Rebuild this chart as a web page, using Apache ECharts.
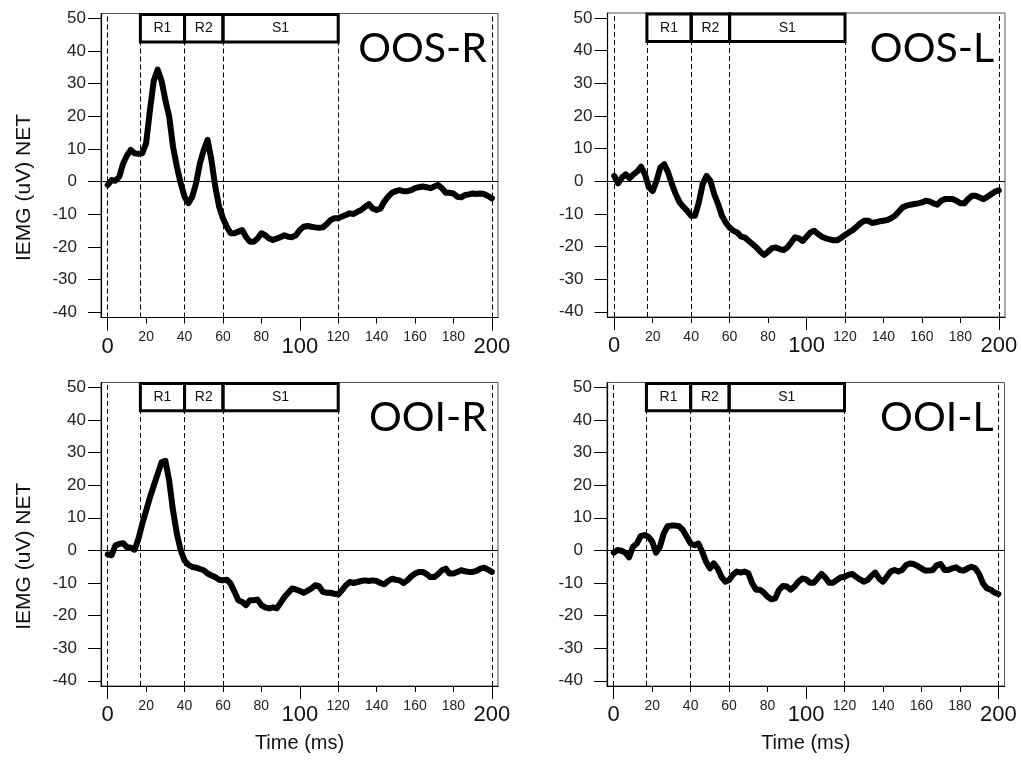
<!DOCTYPE html>
<html><head><meta charset="utf-8">
<script src="https://cdn.jsdelivr.net/npm/echarts@6/dist/echarts.min.js"></script>
<style>html,body{margin:0;padding:0;background:#fff}#c{width:1021px;height:762px}</style>
</head><body><div id="c"></div>
<script>
// ---- data ----
const times = [0,2,4,6,8,10,12,14,16,18,20,22,24,26,28,30,32,34,36,38,40,42,44,46,48,50,52,54,56,58,60,62,64,66,68,70,72,74,76,78,80,82,84,86,88,90,92,94,96,98,100,102,104,106,108,110,112,114,116,118,120,122,124,126,128,130,132,134,136,138,140,142,144,146,148,150,152,154,156,158,160,162,164,166,168,170,172,174,176,178,180,182,184,186,188,190,192,194,196,198,200];
const oosR = [-1,0.5,0.3,1.5,5.5,8,9.7,8.7,8.5,8.7,11.8,22,31,34.3,31,25,20,10.7,4.6,-0.5,-4.6,-6.6,-4.6,-0.5,5.6,9.7,12.8,6.6,-1.5,-7.7,-11.2,-13.8,-15.8,-15.8,-15.3,-14.8,-16.9,-18.4,-18.4,-17.4,-15.8,-16.4,-17.4,-17.9,-17.4,-17,-16.4,-16.9,-17,-16.4,-14.8,-13.8,-13.6,-13.8,-14,-14.1,-14,-13,-11.8,-11.2,-11.2,-10.7,-10.2,-9.7,-9.9,-9.2,-8.7,-7.7,-6.9,-8.2,-8.7,-8.2,-6.1,-4.6,-3.4,-2.9,-2.6,-2.9,-2.9,-2.6,-2,-1.7,-1.5,-1.7,-2,-1.5,-1,-2,-3.4,-3.4,-3.6,-4.6,-4.8,-4.1,-3.9,-3.6,-3.8,-3.6,-3.8,-4.4,-5.1];
const oosL = [1.6,-0.7,1.1,2.1,0.9,2.1,3,4.4,2.1,-1.9,-3,0.1,4.2,5.2,2.7,-0.9,-4,-6.5,-7.9,-9.1,-10.6,-10.6,-6.5,-0.9,1.6,0.1,-4,-7,-10.6,-12.7,-14.2,-15.2,-15.7,-17,-17.3,-18.3,-19.3,-20.3,-21.6,-22.6,-21.6,-20.5,-20.3,-20.8,-21.1,-20.3,-18.8,-17.2,-17.5,-18.3,-17,-15.7,-15.2,-16.2,-17,-17.5,-17.8,-18.1,-18.1,-17.3,-16.5,-15.7,-15,-14,-12.9,-12.1,-12.1,-12.8,-12.6,-12.3,-12.1,-11.9,-11.3,-10.6,-9.3,-8,-7.5,-7.2,-7,-6.8,-6.5,-6,-6.2,-6.8,-7.2,-6,-5.5,-5.5,-5.5,-6,-6.8,-6.8,-5.5,-4.5,-4.5,-5,-5.5,-4.8,-4,-3.2,-2.8];
const ooiR = [-1.2,-1.5,1.5,2,2.2,1,0.8,0.2,3.6,8.2,12.2,16.3,19.9,23.4,27,27.5,21.4,12.2,5.1,0,-3.1,-4.4,-5.1,-5.3,-5.7,-6.1,-7.1,-7.7,-8.2,-9,-9.2,-9,-10.2,-12.7,-15.3,-15.8,-16.8,-15.3,-15.3,-15.1,-16.8,-17.5,-17.8,-17.5,-17.8,-16.1,-14.3,-13,-11.7,-12,-12.4,-13,-12.4,-11.7,-10.7,-11,-12.7,-13,-13,-13.3,-13.5,-12.2,-10.7,-9.7,-10,-9.7,-9.4,-9.2,-9.4,-9.2,-9.4,-10,-10.4,-9.4,-8.7,-9,-9.2,-10,-9.2,-8,-7.1,-6.6,-6.6,-7.3,-8.2,-8.2,-7.3,-6.1,-5.6,-7.1,-7.1,-6.6,-6.1,-6.4,-6.6,-6.6,-6.3,-5.6,-5.3,-5.9,-6.6];
const ooiL = [-0.7,0.1,-0.1,-0.7,-2.1,1.1,2.1,4.4,4.7,4.2,2.7,-0.7,1.1,5.2,7.4,7.6,7.6,7.4,6.2,4.2,2.1,1.6,2.1,-0.4,-3.5,-5.5,-4,-5.5,-8.1,-9.6,-9.1,-7.5,-6.5,-6.8,-6.5,-7,-10.1,-12.1,-12.1,-12.9,-14.2,-15,-14.7,-12.1,-10.9,-11.1,-12.1,-11.1,-9.6,-8.6,-8.9,-9.9,-9.9,-8.6,-7.2,-8.3,-9.9,-9.9,-9.1,-8.3,-8.1,-7.5,-7.2,-8.1,-8.9,-9.6,-9.1,-7.8,-6.8,-8.6,-9.6,-8.1,-6.5,-6,-6.5,-6,-4.5,-4,-4.2,-4.8,-5.5,-6.2,-6.2,-6,-4.5,-4.2,-6,-6,-5.5,-5.2,-6,-6.2,-5.5,-5,-5.5,-7.2,-10.1,-11.6,-12.1,-12.9,-13.4];
const panelNames = ['OOS-R','OOS-L','OOI-R','OOI-L'];
const panelValues = [oosR, oosL, ooiR, ooiL];
const phaseNames = ['R1','R2','S1'];
const phaseBounds = [17, 40, 60, 120];
const markerTimes = [0, 17, 40, 60, 120, 200];
const yTicks = [-40,-30,-20,-10,0,10,20,30,40,50];
const yLabelsPos = [10,20,30,40,50];
const yLabelsNeg = [-40,-30,-20,-10,0];
const xSmallTicks = [20,40,60,80,120,140,160,180];
const xBigTicks = [0,100,200];
const yTitle = 'IEMG (uV) NET';
const xTitle = 'Time (ms)';

// ---- layout ----
const grids = [
  {left:101, top:13.5, width:397, height:304},
  {left:607.5, top:13, width:397.5, height:304},
  {left:101, top:382.5, width:397, height:303.5},
  {left:607, top:382.5, width:397.5, height:303.5}
];
const XMIN = -3.5, XMAX = 203.2, YMIN = -41.6, YMAX = 51.5;
const BOX_LO = 42.8, BOX_HI = 51.2;
const FONT = '"Liberation Sans", Arial, sans-serif';

const option = {
  animation: false,
  backgroundColor: '#fff',
  grid: [], xAxis: [], yAxis: [], series: [], title: []
};

grids.forEach((g, i) => {
  option.grid.push(Object.assign({show: true, borderColor: '#555', borderWidth: 1, backgroundColor: 'transparent'}, g));
  const isBottom = i >= 2, isLeft = i % 2 === 0;
  option.xAxis.push({
    type: 'value', gridIndex: i, min: XMIN, max: XMAX, position: 'bottom',
    axisLine: {show: true, onZero: false, lineStyle: {color: '#000', width: 1.2}},
    axisTick: {show: true, customValues: xSmallTicks, length: 6, lineStyle: {color: '#000'}},
    axisLabel: {show: true, customValues: xSmallTicks, fontSize: 14, color: '#222', fontFamily: FONT, margin: 13},
    splitLine: {show: false},
    name: isBottom ? xTitle : '', nameLocation: 'middle', nameGap: 47,
    nameTextStyle: {fontSize: 20, color: '#111', fontFamily: FONT}
  });
  option.xAxis.push({
    type: 'value', gridIndex: i, min: XMIN, max: XMAX, position: 'bottom',
    axisLine: {show: false, onZero: false},
    axisTick: {show: true, customValues: xBigTicks, length: 13, lineStyle: {color: '#000'}},
    axisLabel: {show: true, customValues: xBigTicks, fontSize: 22, color: '#111', fontFamily: FONT, margin: 18},
    splitLine: {show: false}
  });
  option.yAxis.push({
    type: 'value', gridIndex: i, min: YMIN, max: YMAX, position: 'left',
    axisLine: {show: true, onZero: false, lineStyle: {color: '#000', width: 1.2}},
    axisTick: {show: true, customValues: yTicks, length: 13, lineStyle: {color: '#000'}},
    axisLabel: {show: true, customValues: yLabelsPos, fontSize: 17, color: '#222', fontFamily: FONT, margin: 15},
    splitLine: {show: false},
    name: isLeft ? yTitle : '', nameLocation: 'middle', nameGap: 66, nameRotate: 90,
    nameTextStyle: {fontSize: 21, color: '#111', fontFamily: FONT, padding: [0, 44, 0, 0]}
  });
  option.yAxis.push({
    type: 'value', gridIndex: i, min: YMIN, max: YMAX, position: 'left',
    axisLine: {show: false, onZero: false},
    axisTick: {show: false},
    axisLabel: {show: true, customValues: yLabelsNeg, fontSize: 17, color: '#222', fontFamily: FONT, margin: 24},
    splitLine: {show: false}
  });

  const vals = panelValues[i];
  const markLines = markerTimes.map(t => ({xAxis: t, lineStyle: {type: [5, 3], color: '#000', width: 1}}));
  markLines.push({yAxis: 0, lineStyle: {type: 'solid', color: '#000', width: 1}});
  const areas = phaseNames.map((n, k) => [
    {name: n, xAxis: phaseBounds[k], yAxis: BOX_LO},
    {xAxis: phaseBounds[k + 1], yAxis: BOX_HI}
  ]);
  option.series.push({
    type: 'line', xAxisIndex: 2 * i, yAxisIndex: 2 * i,
    data: times.map((t, k) => [t, vals[k]]),
    showSymbol: false, symbol: 'none', smooth: false,
    lineStyle: {color: '#000', width: 6, cap: 'round', join: 'round'},
    z: 3,
    markLine: {silent: true, symbol: 'none', label: {show: false}, data: markLines, animation: false},
    markArea: {silent: true, data: areas,
      itemStyle: {color: 'rgba(255,255,255,0)', borderColor: '#000', borderWidth: 3},
      label: {show: true, position: 'inside', fontSize: 14, color: '#111', fontFamily: FONT}}
  });
  option.title.push({
    text: panelNames[i],
    right: 1021 - (g.left + g.width) + 6,
    top: g.top + 10,
    textStyle: {fontSize: 41, fontWeight: 'normal', color: '#000', fontFamily: 'Lato, "Open Sans", sans-serif'}
  });
});

const chart = echarts.init(document.getElementById('c'), null, {renderer: 'canvas'});
chart.setOption(option);
</script></body></html>
